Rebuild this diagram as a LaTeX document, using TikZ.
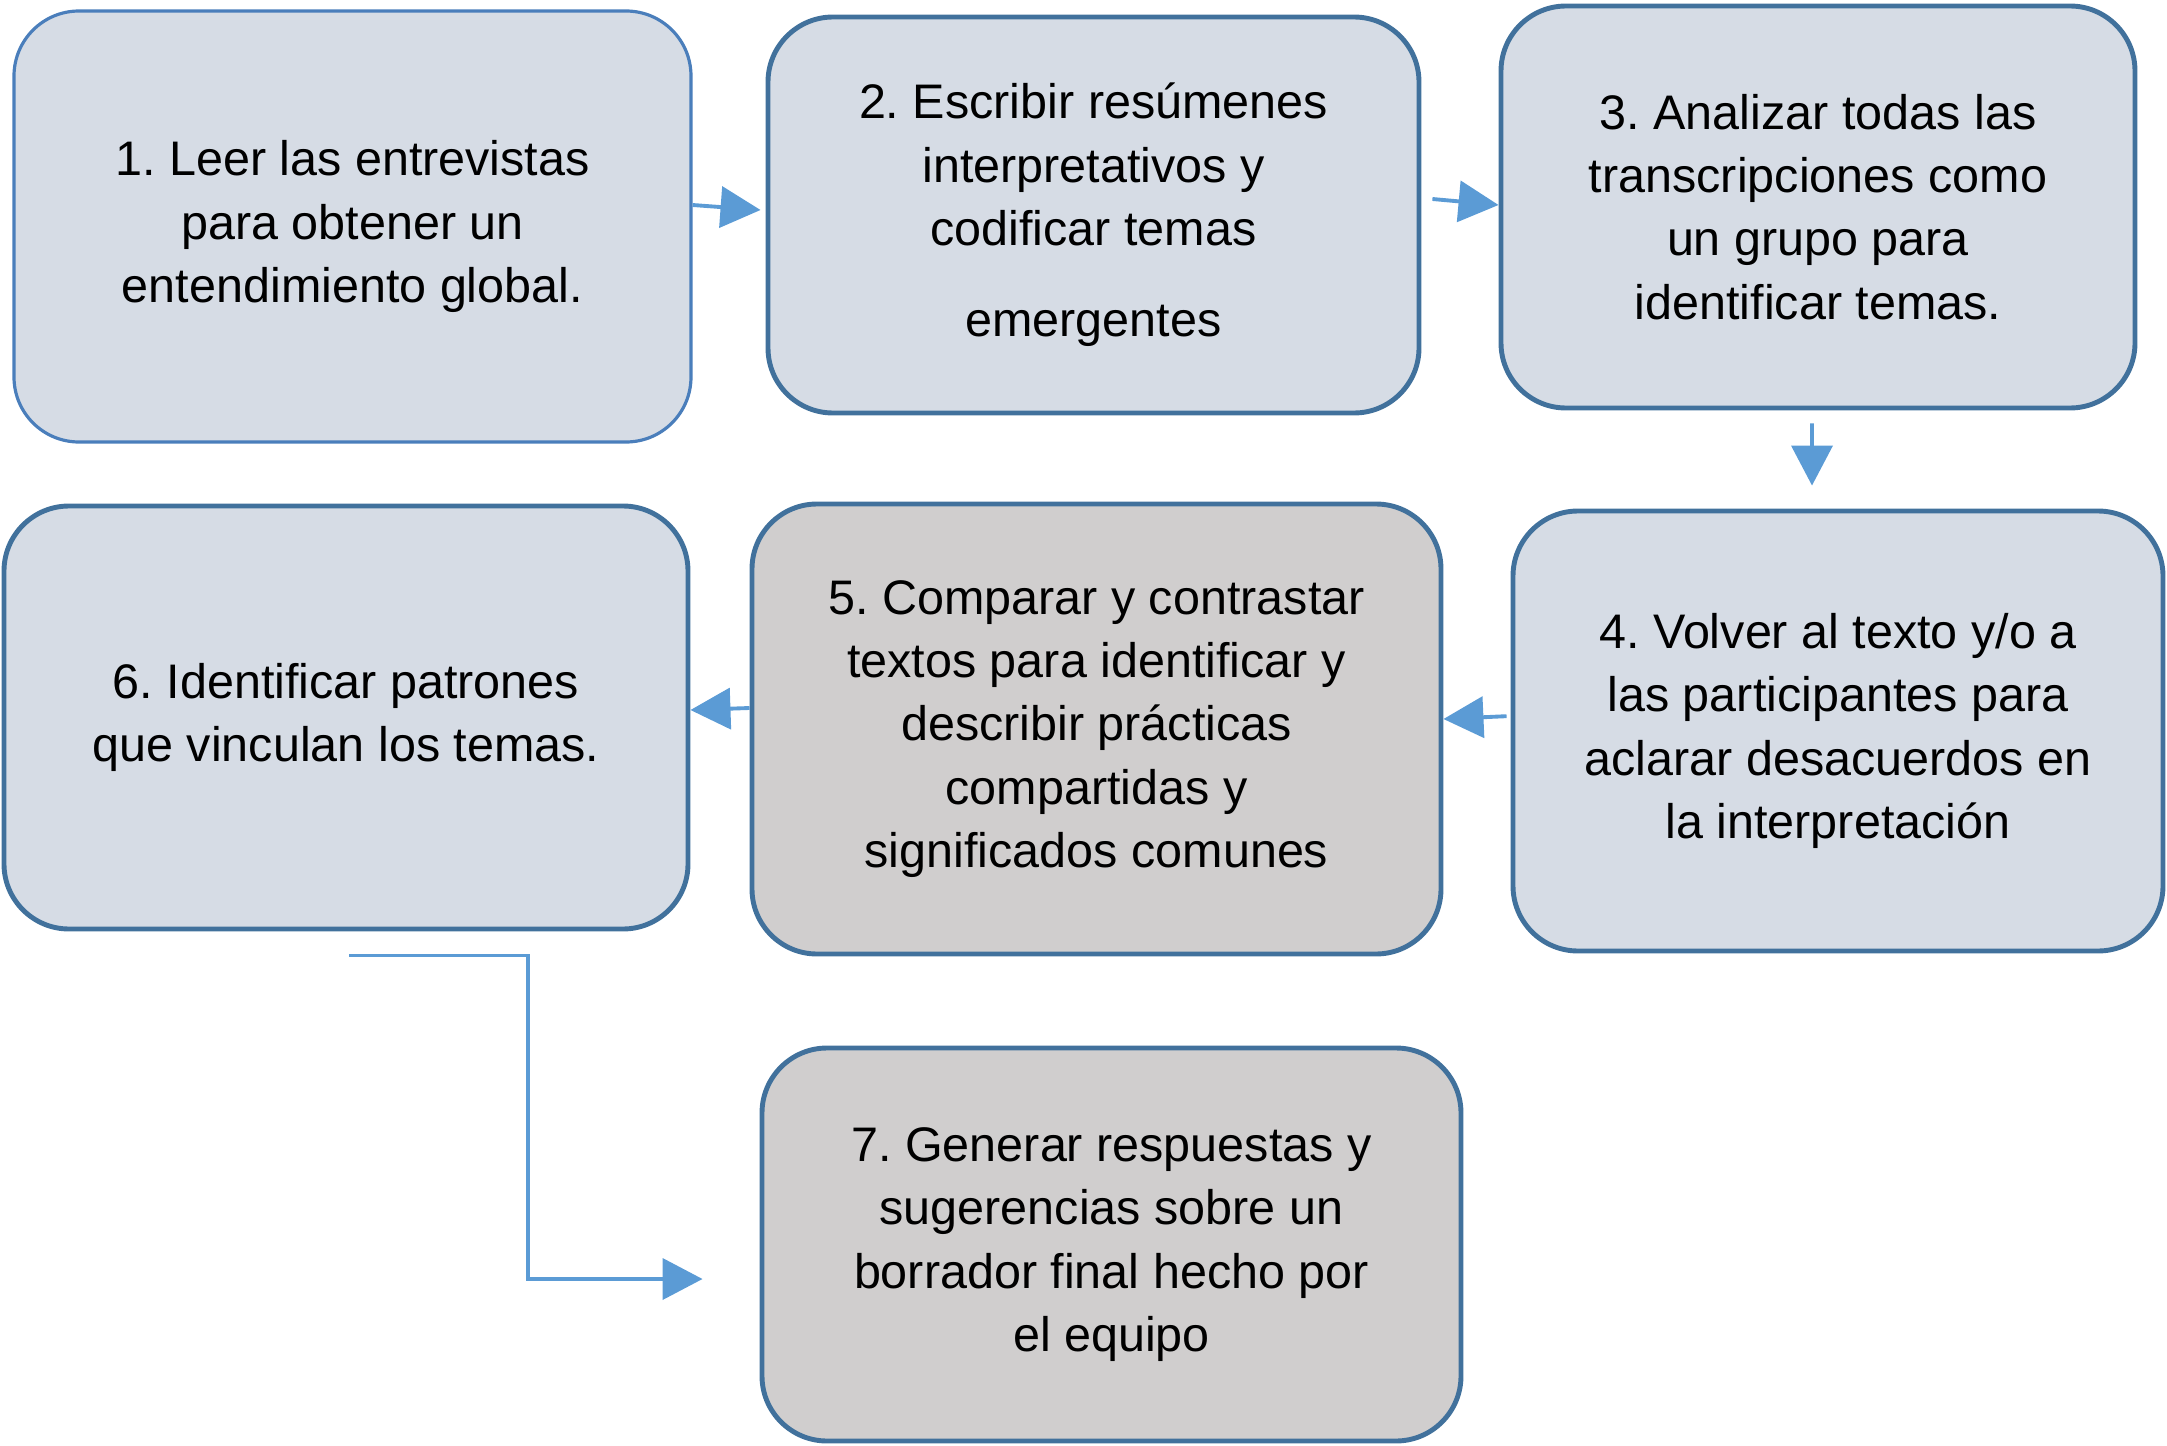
\documentclass[tikz,border=0pt]{standalone}
\usepackage{fontspec}
\setmainfont{Liberation Sans}
\frenchspacing
\usetikzlibrary{arrows.meta,positioning,calc}
\definecolor{StepPaleBlue}{RGB}{214,220,229}
\definecolor{StepPaleGray}{RGB}{208,206,206}
\definecolor{StepRule}{RGB}{65,113,156}
\definecolor{StepRuleLight}{RGB}{74,126,187}
\definecolor{StepArrow}{RGB}{91,155,213}

\begin{document}
\begin{tikzpicture}[
    box/.style={draw=StepRule,line width=1.4pt,rounded corners=0.65cm,fill=StepPaleBlue,inner sep=0pt,align=center,font=\fontsize{13.8}{18}\selectfont},
    arr/.style={-{Triangle[length=0.4cm,width=0.41cm]},line width=1.1pt,draw=StepArrow}
  ]
    \useasboundingbox (0,0) rectangle (21.67,-14.46);
    \node[box,draw=StepRuleLight,line width=0.9pt,minimum width=6.77cm,minimum height=4.31cm] (leer) at (3.525,-2.265) {1. Leer las entrevistas\\para obtener un\\entendimiento global.};
    \node[box,minimum width=6.51cm,minimum height=3.96cm] (escribir) at (10.935,-2.15) {2. Escribir resúmenes\\interpretativos y\\codificar temas\\[8pt]emergentes};
    \node[box,minimum width=6.34cm,minimum height=4.02cm] (analizar) at (18.18,-2.07) {3. Analizar todas las\\transcripciones como\\un grupo para\\identificar temas.};
    \node[box,minimum width=6.50cm,minimum height=4.40cm] (volver) at (18.38,-7.31) {4. Volver al texto y/o a\\las participantes para\\aclarar desacuerdos en\\la interpretación};
    \node[box,fill=StepPaleGray,minimum width=6.89cm,minimum height=4.50cm] (comparar) at (10.965,-7.29) {5. Comparar y contrastar\\textos para identificar y\\describir prácticas\\compartidas y\\significados comunes};
    \node[box,minimum width=6.84cm,minimum height=4.23cm] (patrones) at (3.46,-7.175) {6. Identificar patrones\\que vinculan los temas.};
    \node[box,fill=StepPaleGray,minimum width=6.99cm,minimum height=3.93cm] (generar) at (11.115,-12.445) {7. Generar respuestas y\\sugerencias sobre un\\borrador final hecho por\\el equipo};
    \draw[arr] ([yshift=0.215cm]leer.east) -- ([yshift=0.05cm,xshift=-0.05cm]escribir.west);
    \draw[arr,shorten <=0.11cm] ([yshift=0.17cm]escribir.east) -- ([yshift=0.02cm]analizar.west);
    \draw[arr,shorten <=0.13cm,shorten >=0.23cm] ([xshift=-0.06cm]analizar.south) -- ([xshift=-0.26cm]volver.north);
    \draw[arr,shorten <=0.04cm] ([yshift=0.15cm]volver.west) -- ([yshift=0.10cm]comparar.east);
    \draw[arr] ([yshift=0.21cm]comparar.west) -- ([yshift=0.075cm]patrones.east);
    \draw[arr] ([yshift=-0.24cm,xshift=0.03cm]patrones.south) -- ++(1.79,0) |- ([xshift=-0.57cm,yshift=-0.345cm]generar.west);
  \end{tikzpicture}
\end{document}
